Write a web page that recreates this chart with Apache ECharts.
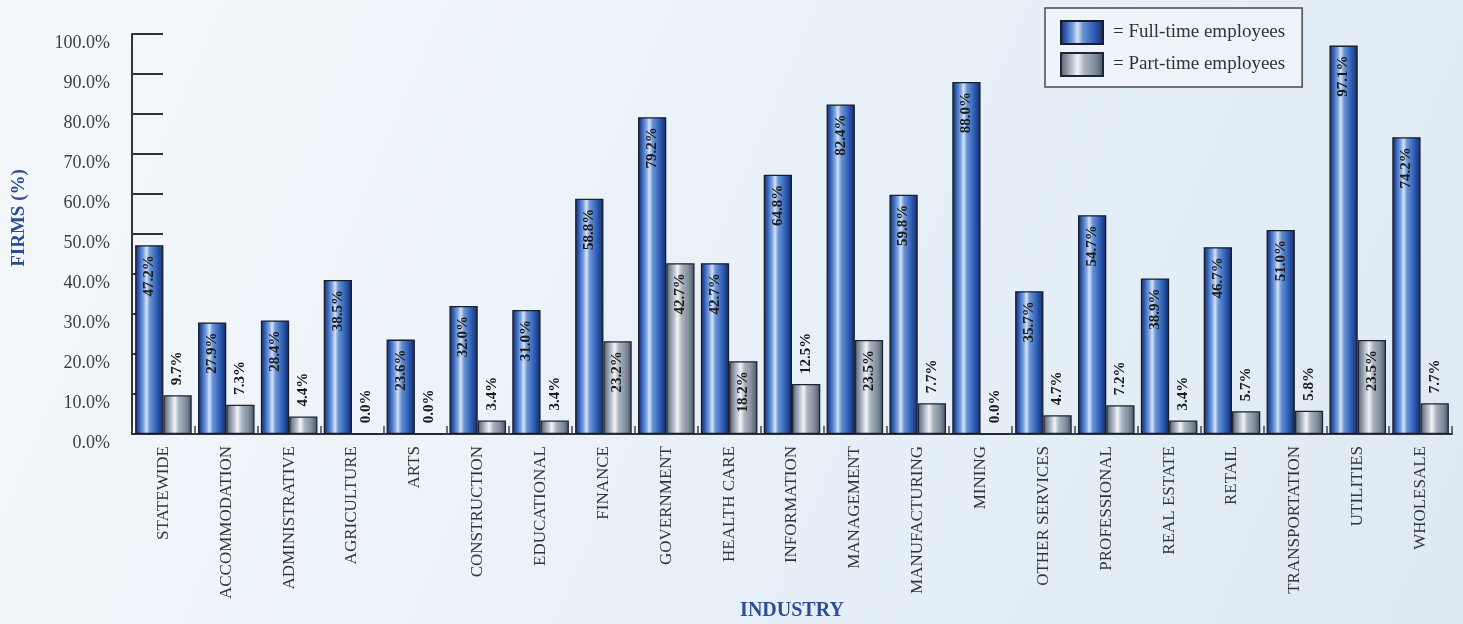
<!DOCTYPE html>
<html>
<head>
<meta charset="utf-8">
<script src="https://cdn.jsdelivr.net/npm/echarts@6/dist/echarts.min.js"></script>
<style>
  html, body { margin: 0; padding: 0; }
  #chart { width: 1463px; height: 624px; }
</style>
</head>
<body>
<div id="chart"></div>
<script>
// Industries along the x axis
const industries = [
  'STATEWIDE', 'ACCOMMODATION', 'ADMINISTRATIVE', 'AGRICULTURE', 'ARTS',
  'CONSTRUCTION', 'EDUCATIONAL', 'FINANCE', 'GOVERNMENT', 'HEALTH CARE',
  'INFORMATION', 'MANAGEMENT', 'MANUFACTURING', 'MINING', 'OTHER SERVICES',
  'PROFESSIONAL', 'REAL ESTATE', 'RETAIL', 'TRANSPORTATION', 'UTILITIES', 'WHOLESALE'
];

// Share of firms (%) offering the benefit
const fullTime = [
  47.2, 27.9, 28.4, 38.5, 23.6,
  32.0, 31.0, 58.8, 79.2, 42.7,
  64.8, 82.4, 59.8, 88.0, 35.7,
  54.7, 38.9, 46.7, 51.0, 97.1, 74.2
];
const partTime = [
  9.7, 7.3, 4.4, 0.0, 0.0,
  3.4, 3.4, 23.2, 42.7, 18.2,
  12.5, 23.5, 7.7, 0.0, 4.7,
  7.2, 3.4, 5.7, 5.8, 23.5, 7.7
];

const seriesNames = ['Full-time employees', 'Part-time employees'];
const yTickStep = 10;

const SERIF = '"Liberation Serif", "DejaVu Serif", serif';

// Cylinder-like shading across each bar
const blueFill = new echarts.graphic.LinearGradient(0, 0, 1, 0, [
  { offset: 0.00, color: '#17295c' },
  { offset: 0.12, color: '#2b58ae' },
  { offset: 0.30, color: '#7fa5e0' },
  { offset: 0.40, color: '#d4e3f6' },
  { offset: 0.52, color: '#6a95d6' },
  { offset: 0.78, color: '#2c5cb5' },
  { offset: 1.00, color: '#152a60' }
]);
const greyFill = new echarts.graphic.LinearGradient(0, 0, 1, 0, [
  { offset: 0.00, color: '#4f5a6a' },
  { offset: 0.12, color: '#7d8997' },
  { offset: 0.30, color: '#c4ccd5' },
  { offset: 0.40, color: '#f2f5f8' },
  { offset: 0.55, color: '#a9b3bf' },
  { offset: 0.80, color: '#808c9b' },
  { offset: 1.00, color: '#465163' }
]);

const pct = v => v.toFixed(1) + '%';

const labelFont = { fontFamily: SERIF, fontWeight: 'bold', fontSize: 15, color: '#1a1a1a' };

// Full-time labels sit inside the bar, under its top
const fullData = fullTime.map(v => ({ value: v }));

// Part-time labels go inside tall bars and above short ones
const partData = partTime.map(v => ({
  value: v,
  label: v >= 15
    ? { position: 'insideTop', align: 'right', distance: 10 }
    : { position: 'top', align: 'left', distance: 10 }
}));

const chart = echarts.init(document.getElementById('chart'), null, { renderer: 'canvas' });

chart.setOption({
  animation: false,
  backgroundColor: new echarts.graphic.LinearGradient(0, 0, 1, 1, [
    { offset: 0, color: '#f4f8fb' },
    { offset: 0.5, color: '#e9f1f8' },
    { offset: 1, color: '#dde9f3' }
  ]),
  legend: {
    orient: 'vertical',
    left: 1045,
    top: 8,
    icon: 'rect',
    itemWidth: 42,
    itemHeight: 23,
    itemGap: 7,
    padding: [12, 17, 10, 15],
    borderColor: '#4a4a4a',
    borderWidth: 1.5,
    backgroundColor: 'rgba(244,248,251,0.6)',
    data: seriesNames,
    formatter: '= {name}',
    textStyle: { fontFamily: SERIF, fontSize: 19, color: '#333', padding: [0, 0, 0, 5] }
  },
  grid: { left: 132, right: 11, top: 34, bottom: 190, containLabel: false, outerBoundsMode: 'none' },
  xAxis: {
    type: 'category',
    data: industries,
    name: 'INDUSTRY',
    nameLocation: 'middle',
    nameGap: 167,
    nameMoveOverlap: false,
    nameTextStyle: { fontFamily: SERIF, fontWeight: 'bold', fontSize: 20, color: '#2a4d96' },
    axisLine: { lineStyle: { color: '#333', width: 2 } },
    axisTick: { show: true, inside: true, length: 8, alignWithLabel: false, interval: 0,
                lineStyle: { color: '#444', width: 1.5 } },
    axisLabel: {
      rotate: 90, interval: 0, margin: 12,
      fontFamily: SERIF, fontSize: 17, color: '#333'
    }
  },
  yAxis: {
    type: 'value',
    min: 0, max: 100, interval: yTickStep,
    axisLine: { show: true, lineStyle: { color: '#333', width: 2 } },
    axisTick: { show: true, inside: true, length: 31, lineStyle: { color: '#333', width: 2 } },
    splitLine: { show: false },
    axisLabel: {
      formatter: pct, margin: 22,
      verticalAlign: 'top', padding: [0, 0, 0, 0],
      fontFamily: SERIF, fontSize: 18, color: '#3c3c3c'
    }
  },
  graphic: [{
    type: 'text',
    x: 19, y: 218,
    rotation: Math.PI / 2,
    style: {
      text: 'FIRMS (%)',
      align: 'center', verticalAlign: 'middle',
      font: 'bold 19px ' + SERIF,
      fill: '#2a4d96'
    }
  }],
  series: [
    {
      name: seriesNames[0],
      type: 'bar',
      data: fullData,
      barGap: '0%',
      barCategoryGap: '10%',
      itemStyle: { color: blueFill, borderColor: '#1a1d2a', borderWidth: 1.3 },
      label: {
        show: true, position: 'insideTop', rotate: 90,
        align: 'right', verticalAlign: 'middle', distance: 10,
        formatter: p => pct(p.value), ...labelFont
      }
    },
    {
      name: seriesNames[1],
      type: 'bar',
      data: partData,
      barGap: '0%',
      barCategoryGap: '10%',
      itemStyle: { color: greyFill, borderColor: '#1e2433', borderWidth: 1.3 },
      label: {
        show: true, rotate: 90, verticalAlign: 'middle',
        formatter: p => pct(p.value), ...labelFont
      }
    }
  ]
});
</script>
</body>
</html>
